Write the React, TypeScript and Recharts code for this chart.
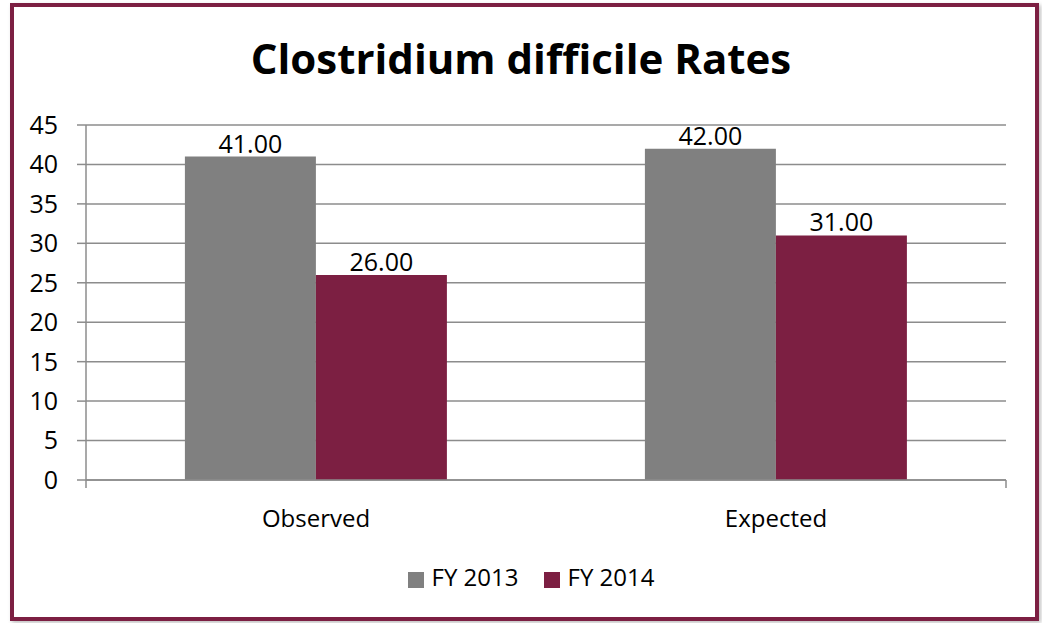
import { BarChart, Bar, XAxis, YAxis, CartesianGrid, Legend, LabelList } from 'recharts'

const categories = ['Observed', 'Expected']
const fy2013 = [41, 42]
const fy2014 = [26, 31]
const yTicks = [0, 5, 10, 15, 20, 25, 30, 35, 40, 45]
const catEdges = [0, 1, 2]

const GRAY = '#808080'
const MAROON = '#7c1f42'
const AXIS = '#8c8c8c'
const FONT = '"Open Sans", sans-serif'

const data = categories.map((c, i) => ({ name: c, fy2013: fy2013[i], fy2014: fy2014[i] }))

export default function App() {
  return (
    <div style={{ position: 'absolute', left: 0, top: 0, width: 1042, height: 623, background: '#fff', fontFamily: FONT }}>
      <div style={{ position: 'absolute', left: 10, top: 3, width: 1029, height: 618, border: `4px solid ${MAROON}`, boxSizing: 'border-box', boxShadow: '2px 2px 4px rgba(0,0,0,0.25)' }} />
      <div style={{ position: 'absolute', left: 0, top: 29, width: 1042, textAlign: 'center', fontSize: 42, fontWeight: 700, color: '#000', lineHeight: '58px' }}>
        Clostridium difficile Rates
      </div>
      <div style={{ position: 'absolute', left: 0, top: 0 }}>
        <BarChart width={1042} height={623} data={data} margin={{ top: 125, right: 36, left: 26, bottom: 52 }} barCategoryGap="21.5%" barGap={0}>
          <CartesianGrid vertical={false} stroke={AXIS} strokeWidth={1.5} xAxisId="cat" />
          {/* edge axis only draws the axis line and the category-boundary ticks */}
          <XAxis xAxisId={0} type="number" domain={[0, 2]} ticks={catEdges} interval={0} stroke={AXIS} strokeWidth={1.5} tick={() => <g />} tickSize={8} height={8} />
          <XAxis xAxisId="cat" dataKey="name" axisLine={false} tick={{ fill: '#000', fontSize: 24, fontFamily: FONT }} tickLine={false} height={50} tickMargin={16} />
          <YAxis domain={[0, 45]} ticks={yTicks} interval={0} width={60} stroke={AXIS} strokeWidth={1.5} tickSize={9} tick={{ fill: '#000', fontSize: 25, fontFamily: FONT }} tickMargin={19} />
          <Legend verticalAlign="bottom" iconType="square" iconSize={16}
            wrapperStyle={{ top: 560, left: 46, fontFamily: FONT, fontSize: 24 }}
            formatter={(v: string, _e: unknown, i: number) => <span style={{ color: '#000', marginLeft: 4, marginRight: i === 0 ? 15 : 0 }}>{v}</span>} />
          <Bar xAxisId="cat" dataKey="fy2013" name="FY 2013" fill={GRAY} isAnimationActive={false}>
            <LabelList dataKey="fy2013" position="top" offset={4} formatter={(v: number) => v.toFixed(2)} style={{ fill: '#000', fontSize: 25, fontFamily: FONT }} />
          </Bar>
          <Bar xAxisId="cat" dataKey="fy2014" name="FY 2014" fill={MAROON} isAnimationActive={false}>
            <LabelList dataKey="fy2014" position="top" offset={4} formatter={(v: number) => v.toFixed(2)} style={{ fill: '#000', fontSize: 25, fontFamily: FONT }} />
          </Bar>
        </BarChart>
      </div>
    </div>
  )
}
